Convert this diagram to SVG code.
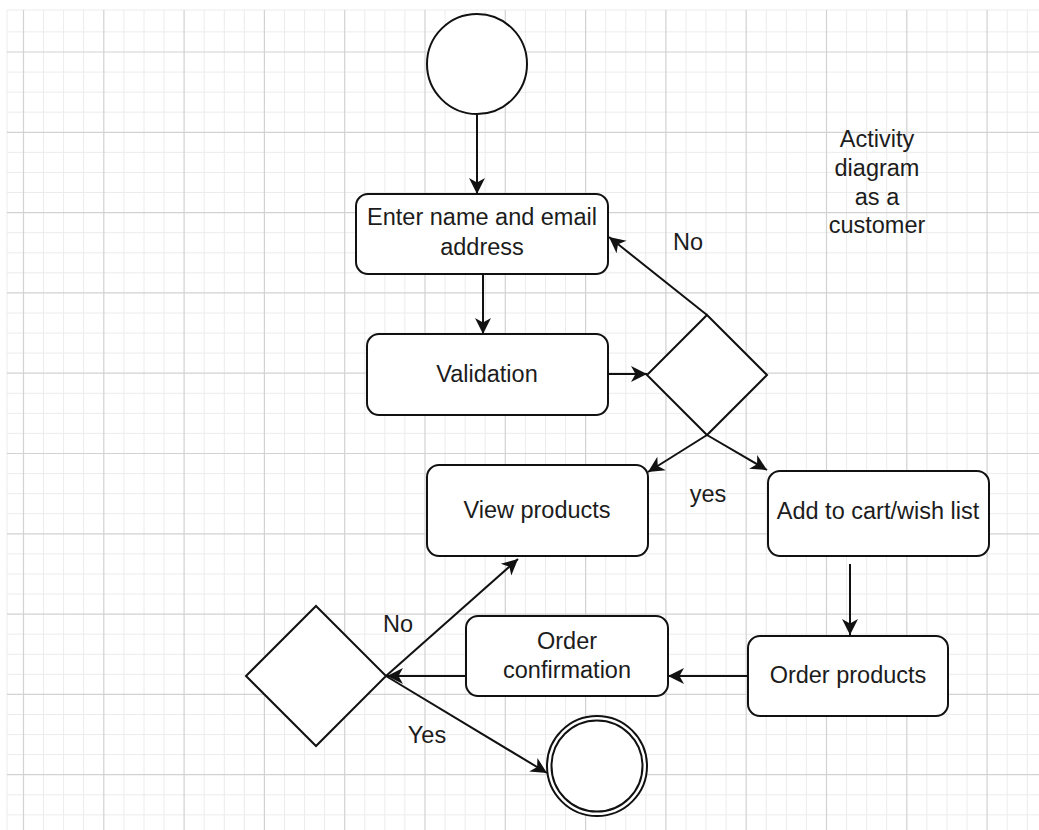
<svg xmlns="http://www.w3.org/2000/svg" width="1039" height="830" viewBox="0 0 1039 830">
<style>
.minor{stroke:#ececec;stroke-width:1;fill:none}
.major{stroke:#d2d2d2;stroke-width:1.2;fill:none}
.shape{fill:#ffffff;stroke:#111111;stroke-width:2}
.edge{fill:none;stroke:#111111;stroke-width:2}
text{font-family:"Liberation Sans",Arial,sans-serif;font-size:23.5px;fill:#1c1c1c;text-anchor:middle}
</style>
<defs>
<marker id="arr" markerUnits="userSpaceOnUse" markerWidth="18" markerHeight="18" refX="16.5" refY="9" orient="auto" viewBox="0 0 18 18">
<path d="M0.5,1 L16.5,9 L0.5,17 L5,9 Z" fill="#111111"/>
</marker>
</defs>
<rect x="0" y="0" width="1039" height="830" fill="#ffffff"/>
<g id="grid">
<path class="minor" d="M7,10V830M43.5,10V830M63.6,10V830M83.6,10V830M123.9,10V830M144,10V830M164,10V830M204.2,10V830M224.3,10V830M244.3,10V830M284.5,10V830M304.6,10V830M324.6,10V830M364.8,10V830M384.9,10V830M404.9,10V830M445.1,10V830M465.2,10V830M485.2,10V830M525.4,10V830M545.5,10V830M565.5,10V830M605.7,10V830M625.8,10V830M645.8,10V830M686,10V830M706,10V830M726.1,10V830M766.3,10V830M786.4,10V830M806.4,10V830M846.6,10V830M866.7,10V830M886.7,10V830M926.9,10V830M947,10V830M967,10V830M1007.2,10V830M1027.3,10V830"/>
<path class="minor" d="M7,10H1039M7,31.9H1039M7,72.1H1039M7,92.2H1039M7,112.2H1039M7,152.4H1039M7,172.5H1039M7,192.5H1039M7,232.7H1039M7,252.8H1039M7,272.8H1039M7,313H1039M7,333.1H1039M7,353.1H1039M7,393.3H1039M7,413.4H1039M7,433.4H1039M7,473.6H1039M7,493.7H1039M7,513.7H1039M7,553.9H1039M7,574H1039M7,594H1039M7,634.2H1039M7,654.3H1039M7,674.3H1039M7,714.5H1039M7,734.6H1039M7,754.6H1039M7,794.8H1039M7,814.9H1039"/>
<path class="major" d="M23.5,10V830M103.8,10V830M184.1,10V830M264.4,10V830M344.7,10V830M425,10V830M505.3,10V830M585.6,10V830M665.9,10V830M746.2,10V830M826.5,10V830M906.8,10V830M987.1,10V830"/>
<path class="major" d="M7,52H1039M7,132.3H1039M7,212.6H1039M7,292.9H1039M7,373.2H1039M7,453.5H1039M7,533.8H1039M7,614.1H1039M7,694.4H1039M7,774.7H1039"/>
</g>
<g id="connectors">
<path class="edge" d="M477,114 L477,194" marker-end="url(#arr)"/>
<path class="edge" d="M483,274 L483,334" marker-end="url(#arr)"/>
<path class="edge" d="M608,374 L647,374" marker-end="url(#arr)"/>
<path class="edge" d="M707,315 L609,237" marker-end="url(#arr)"/>
<path class="edge" d="M707,435 L648,472" marker-end="url(#arr)"/>
<path class="edge" d="M707,435 L767,470" marker-end="url(#arr)"/>
<path class="edge" d="M850,564 L850,635" marker-end="url(#arr)"/>
<path class="edge" d="M748,676 L668,676" marker-end="url(#arr)"/>
<path class="edge" d="M466,676 L387,676" marker-end="url(#arr)"/>
<path class="edge" d="M386,676 L518,559" marker-end="url(#arr)"/>
<path class="edge" d="M386,676 L547,773" marker-end="url(#arr)"/>
<text x="688" y="250">No</text>
<text x="708" y="502">yes</text>
<text x="398" y="632">No</text>
<text x="427" y="743">Yes</text>
</g>
<g id="start">
<circle class="shape" cx="477" cy="64" r="50"/>
</g>
<g id="enter">
<rect class="shape" x="356" y="194" width="252" height="80" rx="12"/>
<text x="482" y="225">Enter name and email</text>
<text x="482" y="255">address</text>
</g>
<g id="validation">
<rect class="shape" x="367" y="334" width="241" height="81" rx="12"/>
<text x="487" y="382">Validation</text>
</g>
<g id="decision1">
<path class="shape" d="M707,315 L767,375 L707,435 L647,375 Z"/>
</g>
<g id="view">
<rect class="shape" x="427" y="465" width="221" height="91" rx="12"/>
<text x="537" y="518">View products</text>
</g>
<g id="addcart">
<rect class="shape" x="768" y="471" width="221" height="85" rx="12"/>
<text x="878" y="519">Add to cart/wish list</text>
</g>
<g id="order">
<rect class="shape" x="748" y="636" width="200" height="80" rx="12"/>
<text x="848" y="683">Order products</text>
</g>
<g id="confirm">
<rect class="shape" x="466" y="616" width="202" height="80" rx="12"/>
<text x="567" y="649">Order</text>
<text x="567" y="678">confirmation</text>
</g>
<g id="decision2">
<path class="shape" d="M316,606 L386,676 L316,746 L246,676 Z"/>
</g>
<g id="end">
<circle class="shape" cx="597" cy="766" r="50"/>
<circle class="shape" cx="597" cy="766" r="45.5"/>
</g>
<g id="title">
<text x="877" y="147">Activity</text>
<text x="877" y="176">diagram</text>
<text x="877" y="205">as a</text>
<text x="877" y="233">customer</text>
</g>
</svg>
